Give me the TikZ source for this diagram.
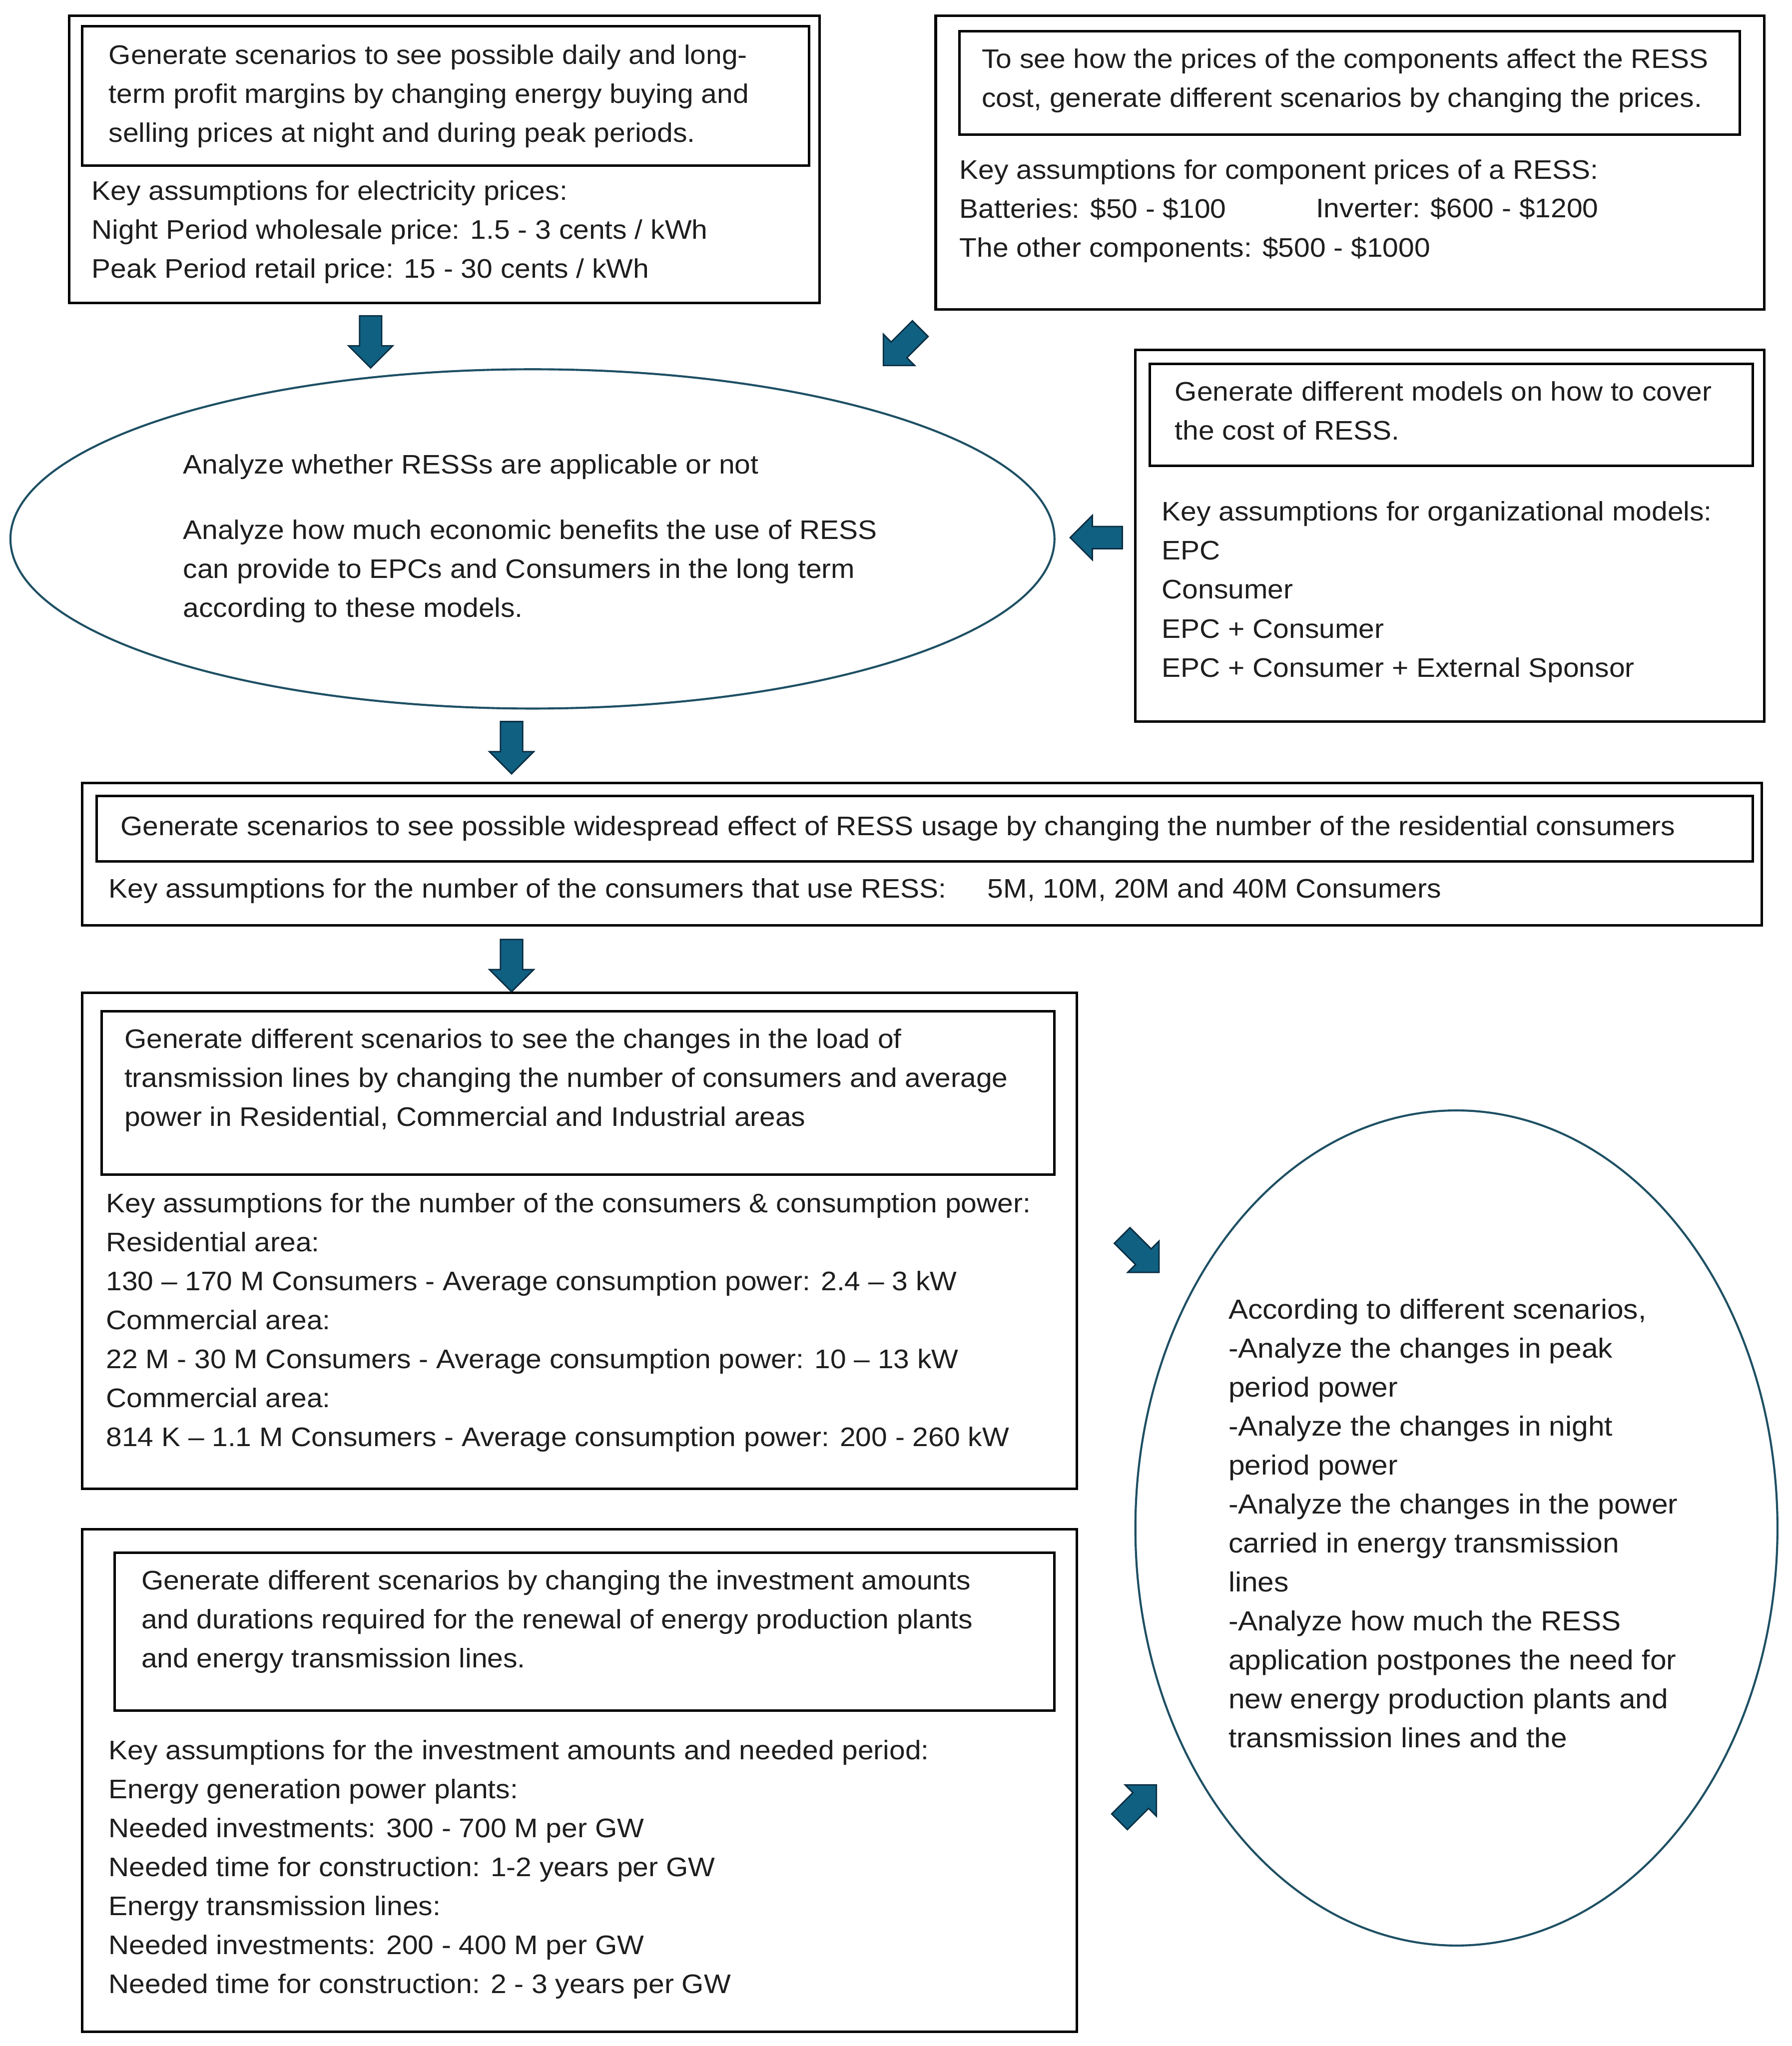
\documentclass[tikz,border=0pt]{standalone}
\usepackage{fontspec}
\setmainfont{Liberation Sans}[FakeStretch=1.06]
\usetikzlibrary{positioning}

\definecolor{arrowblue}{RGB}{16,96,130}
\definecolor{arrowedge}{RGB}{10,45,65}
\definecolor{ringteal}{RGB}{30,80,100}
\definecolor{inktext}{RGB}{30,30,30}

\tikzset{
  outerbox/.style={draw=black, line width=1.1pt},
  innerbox/.style={draw=black, line width=1.1pt},
  ring/.style={draw=ringteal, line width=0.9pt},
  para/.style={anchor=north west, inner sep=0pt, align=left, text=inktext,
    font=\fontsize{11.7}{17}\selectfont},
  widepara/.style={para, font=\fontsize{12.05}{17}\selectfont},
  pics/fatarrow/.style={code={
    \draw[fill=arrowblue, draw=arrowedge, line width=0.6pt, line join=miter]
      (-20,-8.5) -- (3,-8.5) -- (3,-17) -- (20,0) -- (3,17) -- (3,8.5) -- (-20,8.5) -- cycle;
  }}
}

\begin{document}
\begin{tikzpicture}[x=0.02cm, y=-0.02cm]
  \useasboundingbox[fill=white] (0,0) rectangle (1373,1568);

  % top left: electricity prices
  \draw[outerbox] (53,12) rectangle (628,232);
  \draw[innerbox] (63,20) rectangle (620,127);
  \node[para] (priceGoal) at (83,34) {Generate scenarios to see possible daily and long-\\term profit margins by changing energy buying and\\selling prices at night and during peak periods.};
  \node[para] (priceKeys) at (70,138) {Key assumptions for electricity prices:\\Night Period wholesale price: 1.5 - 3 cents / kWh\\Peak Period retail price: 15 - 30 cents / kWh};

  % top right: component prices
  \draw[outerbox] (717,12) rectangle (1352,237);
  \draw[innerbox] (735,24) rectangle (1333,103);
  \node[para] (compGoal) at (752,37) {To see how the prices of the components affect the RESS\\cost, generate different scenarios by changing the prices.};
  \node[para] (compKeys) at (735,122) {Key assumptions for component prices of a RESS:\\Batteries: \$50 - \$100\\The other components: \$500 - \$1000};
  \node[para] (inverter) at (1008,151) {Inverter: \$600 - \$1200};

  % middle right: organizational models
  \draw[outerbox] (870,268) rectangle (1352,553);
  \draw[innerbox] (881,279) rectangle (1343,357);
  \node[para] (orgGoal) at (900,292) {Generate different models on how to cover\\the cost of RESS.};
  \node[para] (orgKeys) at (890,384) {Key assumptions for organizational models:\\EPC\\Consumer\\EPC + Consumer\\EPC + Consumer + External Sponsor};

  % economic analysis
  \draw[ring] (408,413) ellipse (400 and 130);
  \node[para] (applicable) at (140,348) {Analyze whether RESSs are applicable or not};
  \node[para] (benefits) at (140,398) {Analyze how much economic benefits the use of RESS\\can provide to EPCs and Consumers in the long term\\according to these models.};

  % widespread usage
  \draw[outerbox] (63,600) rectangle (1350,709);
  \draw[innerbox] (74,610) rectangle (1343,660);
  \node[para] (usageGoal) at (92,625) {Generate scenarios to see possible widespread effect of RESS usage by changing the number of the residential consumers};
  \node[para] (usageKeys) at (83,673) {Key assumptions for the number of the consumers that use RESS:\hspace{18pt}5M, 10M, 20M and 40M Consumers};

  % transmission load
  \draw[outerbox] (63,761) rectangle (825,1141);
  \draw[innerbox] (78,775) rectangle (808,900);
  \node[para] (loadGoal) at (95,788) {Generate different scenarios to see the changes in the load of\\transmission lines by changing the number of consumers and average\\power in Residential, Commercial and Industrial areas};
  \node[para] (loadKeys) at (81,914) {Key assumptions for the number of the consumers \& consumption power:\\Residential area:\\130 – 170 M Consumers - Average consumption power: 2.4 – 3 kW\\Commercial area:\\22 M - 30 M Consumers - Average consumption power: 10 – 13 kW\\Commercial area:\\814 K – 1.1 M Consumers - Average consumption power: 200 - 260 kW};

  % investments
  \draw[outerbox] (63,1172) rectangle (825,1557);
  \draw[innerbox] (88,1190) rectangle (808,1311);
  \node[para] (investGoal) at (108,1203) {Generate different scenarios by changing the investment amounts\\and durations required for the renewal of energy production plants\\and energy transmission lines.};
  \node[para] (investKeys) at (83,1333) {Key assumptions for the investment amounts and needed period:\\Energy generation power plants:\\Needed investments: 300 - 700 M per GW\\Needed time for construction: 1-2 years per GW\\Energy transmission lines:\\Needed investments: 200 - 400 M per GW\\Needed time for construction: 2 - 3 years per GW};

  % grid analysis
  \draw[ring] (1116,1171) ellipse (246 and 320);
  \node[widepara] (gridText) at (941,995) {According to different scenarios,\\-Analyze the changes in peak\\period power\\-Analyze the changes in night\\period power\\-Analyze the changes in the power\\carried in energy transmission\\lines\\-Analyze how much the RESS\\application postpones the need for\\new energy production plants and\\transmission lines and the};

  % block arrows
  \pic[rotate=-90] (arrPrice) at (284,262) {fatarrow};
  \pic[rotate=-135] (arrComp) at (691,266) {fatarrow};
  \pic[rotate=180] (arrOrg) at (840,412) {fatarrow};
  \pic[rotate=-90] (arrUsage) at (392,573) {fatarrow};
  \pic[rotate=-90] (arrLoad) at (392,740) {fatarrow};
  \pic[rotate=-45] (arrToGrid) at (874,961) {fatarrow};
  \pic[rotate=45] (arrFromInvest) at (872,1382) {fatarrow};
\end{tikzpicture}
\end{document}
